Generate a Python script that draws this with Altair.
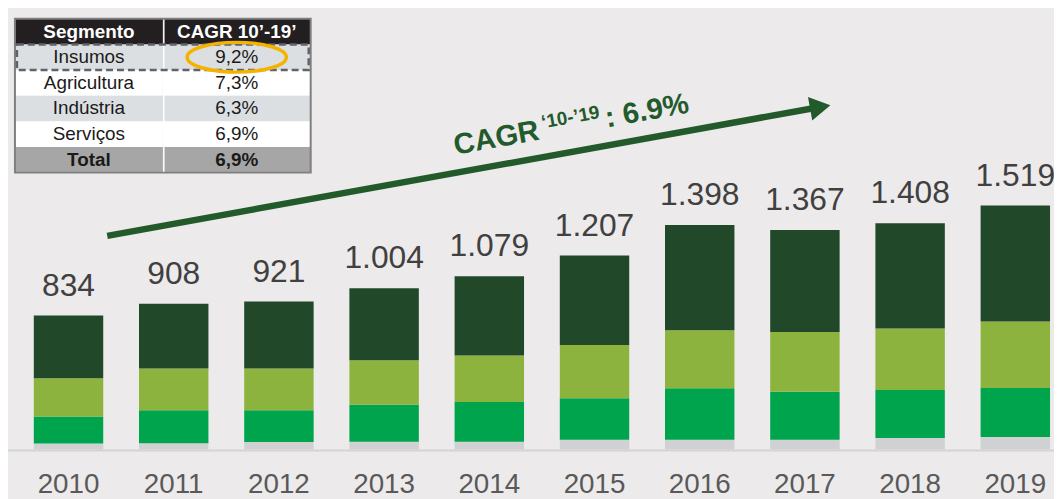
import math
import altair as alt
import pandas as pd

# ---------------- data ----------------
years = ["2010", "2011", "2012", "2013", "2014", "2015", "2016", "2017", "2018", "2019"]
insumos = [37, 39, 47, 48, 48, 60, 60, 60, 72, 78]
agricultura = [168, 206, 198, 230, 247, 259, 321, 300, 299, 305]
industria = [239, 259, 259, 278, 290, 331, 362, 371, 383, 414]
servicos = [390, 404, 417, 448, 494, 557, 655, 636, 654, 722]
totals = [834, 908, 921, 1004, 1079, 1207, 1398, 1367, 1408, 1519]

segments = ["Insumos", "Agricultura", "Indústria", "Serviços"]

table_rows = ["Segmento", "Insumos", "Agricultura", "Indústria", "Serviços", "Total"]
table_cagr = ["CAGR 10’-19’", "9,2%", "7,3%", "6,3%", "6,9%", "6,9%"]

cagr_main = "CAGR"
cagr_sup = "‘10-’19"
cagr_value = ": 6.9%"

# ---------------- styles ----------------
FONT = "Liberation Sans"
seg_colors = ["#D0D1D3", "#00A44C", "#8DB33F", "#22482A"]
row_fills = ["#231F20", "#DCDFE1", "#FFFFFF", "#DCDFE1", "#FFFFFF", "#A6A6A6"]
ARROW = "#235A2C"

W, H = 1054, 443

# ---------------- frames ----------------
series = [insumos, agricultura, industria, servicos]
rows = []
for si, (seg, vals) in enumerate(zip(segments, series)):
    for y, v in zip(years, vals):
        rows.append({"year": y, "segment": seg, "value": v, "order": si})
bars_df = pd.DataFrame(rows)

tot_df = pd.DataFrame({
    "year": years,
    "total": totals,
    "label": [f"{t:,}".replace(",", ".") for t in totals],
})

tab = []
for r, c in zip(table_rows, table_cagr):
    tab.append({"row": r, "col": "c1", "text": r})
    tab.append({"row": r, "col": "c2", "text": c})
tab_df = pd.DataFrame(tab)

one = pd.DataFrame({"a": [0]})

# ---------------- bars ----------------
xscale = alt.Scale(range=[26, 1050], paddingInner=0.34, paddingOuter=0)
yscale = alt.Scale(domain=[0, 2737])
xaxis = alt.Axis(title=None, ticks=False, labelAngle=0, labelFontSize=28,
                 labelColor="#595959", labelFont=FONT, labelPadding=21,
                 domain=False, grid=False)

bars = alt.Chart(bars_df).mark_bar().encode(
    x=alt.X("year:O", scale=xscale, sort=years, axis=xaxis),
    y=alt.Y("value:Q", stack="zero", scale=yscale, axis=None),
    color=alt.Color("segment:N", scale=alt.Scale(domain=segments, range=seg_colors), legend=None),
    order=alt.Order("order:Q"),
)

labels = alt.Chart(tot_df).mark_text(
    dy=-20, baseline="alphabetic", fontSize=32, color="#404040", font=FONT
).encode(
    x=alt.X("year:O", scale=xscale, sort=years, axis=xaxis),
    y=alt.Y("total:Q", scale=yscale, axis=None),
    text="label:N",
)

main = alt.layer(bars, labels)

baseline = alt.Chart(one).mark_rule(color="#D4D4D4", strokeWidth=2).encode(
    x=alt.value(0), x2=alt.value(W), y=alt.value(H + 1)
)

# ---------------- table ----------------
tx = alt.X("col:N", scale=alt.Scale(domain=["c1", "c2"], range=[7, 305], paddingInner=0, paddingOuter=0), axis=None)
ty = alt.Y("row:N", scale=alt.Scale(domain=table_rows, range=[9, 164], paddingInner=0, paddingOuter=0), axis=None)

t_rect = alt.Chart(tab_df).mark_rect().encode(
    x=tx, y=ty,
    color=alt.Color("row:N", scale=alt.Scale(domain=table_rows, range=row_fills), legend=None),
)

t_text_norm = alt.Chart(tab_df).transform_filter(
    "datum.row != 'Segmento' && datum.row != 'Total'"
).mark_text(fontSize=19, font=FONT, color="#1A1A1A").encode(x=tx, y=ty, text="text:N")

t_text_head = alt.Chart(tab_df).transform_filter(
    "datum.row == 'Segmento'"
).mark_text(fontSize=19, font=FONT, fontWeight="bold", color="#FFFFFF").encode(x=tx, y=ty, text="text:N")

t_text_total = alt.Chart(tab_df).transform_filter(
    "datum.row == 'Total'"
).mark_text(fontSize=19, font=FONT, fontWeight="bold", color="#1A1A1A").encode(x=tx, y=ty, text="text:N")

t_div = alt.Chart(one).mark_rule(color="#FFFFFF", strokeWidth=1.5).encode(
    x=alt.value(157), y=alt.value(9), y2=alt.value(164)
)

t_border = alt.Chart(one).mark_rect(fillOpacity=0, stroke="#7F7F7F", strokeWidth=2).encode(
    x=alt.value(7), x2=alt.value(305), y=alt.value(9), y2=alt.value(164)
)

t_dash = alt.Chart(tab_df).transform_filter(
    "datum.row == 'Insumos' && datum.col == 'c1'"
).mark_rect(fillOpacity=0, stroke="#5F646A", strokeWidth=2.5, strokeDash=[7, 4]).encode(
    x=alt.value(9), x2=alt.value(303), y=ty
)

ellipse = "M-1,0A1,0.3,0,1,1,1,0A1,0.3,0,1,1,-1,0Z"
t_ell = alt.Chart(tab_df).transform_filter(
    "datum.row == 'Insumos' && datum.col == 'c2'"
).mark_point(shape=ellipse, size=10000, filled=False, stroke="#F4B301", strokeWidth=3.5, opacity=1).encode(
    x=tx, y=ty
)

table = alt.layer(t_rect, t_text_norm, t_text_head, t_text_total, t_div, t_border, t_dash, t_ell)

# ---------------- arrow & CAGR annotation ----------------
x0, y0 = 100, 227.7
tipx, tipy = 828.7, 96.0
theta = math.atan2(y0 - tipy, tipx - x0)
ux, uy = math.cos(theta), -math.sin(theta)
nx, ny = -math.sin(theta), -math.cos(theta)
hx, hy = tipx - 10.4 * ux, tipy - 10.4 * uy
ang = 360 - math.degrees(theta)

arrow_line = alt.Chart(one).mark_rule(color=ARROW, strokeWidth=6.5).encode(
    x=alt.value(x0), y=alt.value(y0), x2=alt.value(hx), y2=alt.value(hy)
)
arrow_head = alt.Chart(one).mark_point(shape="triangle-right", size=576, filled=True,
                                        color=ARROW, opacity=1, angle=ang).encode(
    x=alt.value(hx), y=alt.value(hy)
)

bx, by = 451, 146
def along(s, up=0.0):
    return bx + s * ux + up * nx, by + s * uy + up * ny

p1 = along(0)
p2 = along(91, 10.5)
p3 = along(155)

txt1 = alt.Chart(one).mark_text(text=cagr_main, align="left", baseline="alphabetic", angle=ang,
                                fontSize=29.5, fontWeight="bold", font=FONT, color=ARROW).encode(
    x=alt.value(p1[0]), y=alt.value(p1[1]))
txt2 = alt.Chart(one).mark_text(text=cagr_sup, align="left", baseline="alphabetic", angle=ang,
                                fontSize=19, fontWeight="bold", font=FONT, color=ARROW).encode(
    x=alt.value(p2[0]), y=alt.value(p2[1]))
txt3 = alt.Chart(one).mark_text(text=cagr_value, align="left", baseline="alphabetic", angle=ang,
                                fontSize=29.5, fontWeight="bold", font=FONT, color=ARROW).encode(
    x=alt.value(p3[0]), y=alt.value(p3[1]))

annot = alt.layer(baseline, arrow_line, arrow_head, txt1, txt2, txt3)

chart = alt.layer(annot, main, table).resolve_scale(
    x="independent", y="independent", color="independent"
).properties(
    width=W, height=H,
    autosize=alt.AutoSizeParams(type="none"),
    padding={"left": 0, "top": 0, "right": 0, "bottom": 48},
    background="#ECEAEB",
).configure_view(strokeWidth=0)

chart.save("out.html", embed_options={"renderer": "svg", "actions": False})
